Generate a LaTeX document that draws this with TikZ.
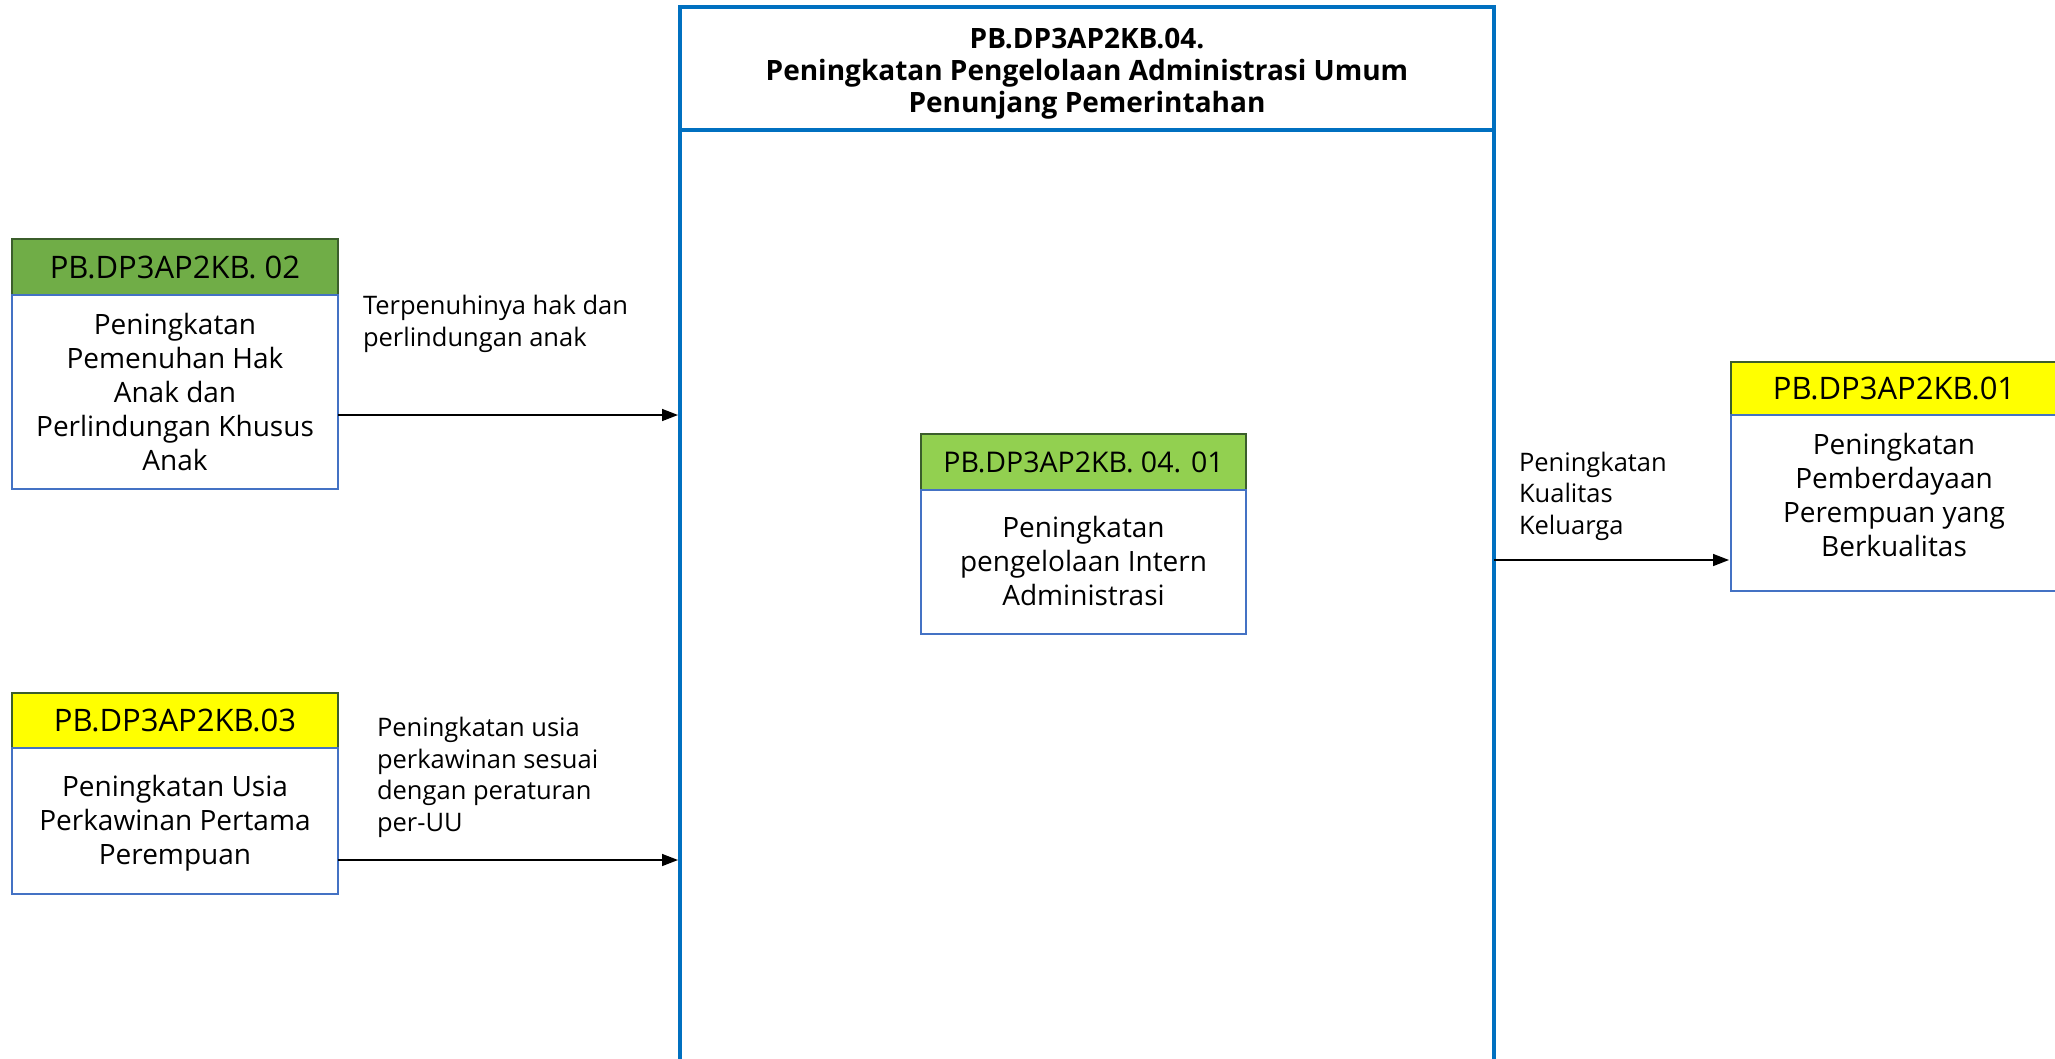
\documentclass[tikz,border=0pt]{standalone}
\usepackage{fontspec}
\setmainfont{Open Sans}
\usetikzlibrary{arrows.meta}
\definecolor{frameblue}{HTML}{0070C0}
\definecolor{bodyblue}{HTML}{4472C4}
\definecolor{leafgreen}{HTML}{70AD47}
\definecolor{limegreen}{HTML}{92D050}
\definecolor{hdrline}{HTML}{3B5E2B}
\definecolor{brightyellow}{HTML}{FFFF00}
\tikzset{
  every node/.style={outer sep=0pt},
  hdr/.style={draw=hdrline, line width=2pt, minimum width=326pt, minimum height=#1,
    anchor=north west, inner sep=0pt, font=\fontsize{31}{36}\selectfont},
  bodybox/.style={draw=bodyblue, line width=2pt, anchor=north west, minimum width=326pt,
    minimum height=#1, inner sep=0pt, fill=white},
  bodytext/.style={align=center, inner sep=0pt, font=\fontsize{28}{34}\selectfont},
  bigframe/.style={draw=frameblue, line width=4pt, anchor=north west, minimum width=814pt,
    minimum height=#1, inner sep=0pt},
  lbl/.style={align=left, inner sep=0pt, anchor=west, font=\fontsize{25.5}{31.5}\selectfont},
  link/.style={line width=1.5pt, -{Triangle[length=16pt,width=12pt]}, shorten >=2pt}
}
\begin{document}
\begin{tikzpicture}[x=1pt, y=-1pt]
\useasboundingbox (0,0) rectangle (2055,1058);
\clip (0,0) rectangle (2055,1058);
\fill[white] (0,0) rectangle (2055,1058);

% central programme frame
\node[bigframe=123pt] (bighead) at (680,7) {};
\node[bigframe=980pt] (bigbody) at (bighead.south west) {};
\node[align=center, inner sep=0pt, font=\bfseries\fontsize{28}{32}\selectfont] (title) at (1087,74)
  {PB.DP3AP2KB.04.\\Peningkatan Pengelolaan Administrasi Umum\\Penunjang Pemerintahan};

% left box 1
\node[hdr=56pt, fill=leafgreen] (h2) at (12,239) {PB.DP3AP2KB. 02};
\node[bodybox=194pt] (b2) at (h2.south west) {};
\node[bodytext, yshift=0.5pt] (t2) at (b2.center)
  {Peningkatan\\Pemenuhan Hak\\Anak dan\\Perlindungan Khusus\\Anak};

% left box 2
\node[hdr=55pt, fill=brightyellow] (h3) at (12,693) {PB.DP3AP2KB.03};
\node[bodybox=146pt] (b3) at (h3.south west) {};
\node[bodytext, yshift=-2pt] (t3) at (b3.center)
  {Peningkatan Usia\\Perkawinan Pertama\\Perempuan};

% inner box
\node[hdr=56pt, fill=limegreen, minimum width=325pt, font=\fontsize{28.5}{34}\selectfont] (h41) at (921,434) {PB.DP3AP2KB. 04. 01};
\node[bodybox=144pt, minimum width=325pt] (b41) at (h41.south west) {};
\node[bodytext, yshift=1pt] (t41) at (b41.center)
  {Peningkatan\\pengelolaan Intern\\Administrasi};

% right box
\node[hdr=53pt, fill=brightyellow] (h1) at (1731,362) {PB.DP3AP2KB.01};
\node[bodybox=176pt] (b1) at (h1.south west) {};
\node[bodytext, yshift=8pt] (t1) at (b1.center)
  {Peningkatan\\Pemberdayaan\\Perempuan yang\\Berkualitas};

% connectors
\draw[link] (b2.east |- 0,415) -- (bigbody.west |- 0,415);
\draw[link] (b3.east |- 0,860) -- (bigbody.west |- 0,860);
\draw[link] (bigbody.east |- 0,560) -- (b1.west |- 0,560);

% connector labels
\node[lbl] (l2) at (363,324) {Terpenuhinya hak dan\\perlindungan anak};
\node[lbl] (l3) at (377,777.5) {Peningkatan usia\\perkawinan sesuai\\dengan peraturan\\per-UU};
\node[lbl] (l1) at (1519,496) {Peningkatan\\Kualitas\\Keluarga};
\end{tikzpicture}
\end{document}
